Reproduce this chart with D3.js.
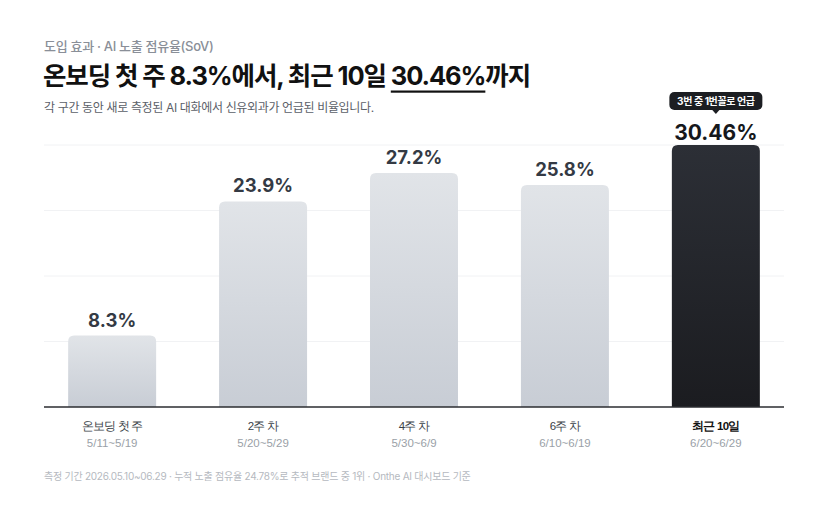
<!DOCTYPE html>
<html>
<head>
<meta charset="utf-8">
<script src="https://cdn.jsdelivr.net/npm/d3@7"></script>
<style>
  body { margin: 0; background: #fff; }
  svg { display: block; font-family: "Inter", "Noto Sans CJK KR", sans-serif; }
</style>
</head>
<body>
<div class="chart"></div>
<script>
var periods = ["온보딩 첫 주", "2주 차", "4주 차", "6주 차", "최근 10일"];
var ranges = ["5/11~5/19", "5/20~5/29", "5/30~6/9", "6/10~6/19", "6/20~6/29"];
var shares = [8.3, 23.9, 27.2, 25.8, 30.46];
var shareLabels = ["8.3%", "23.9%", "27.2%", "25.8%", "30.46%"];

var svgWidth = 828;
var svgHeight = 524;

var margin = { top: 145, right: 44, bottom: 117, left: 44 };
var width = svgWidth - margin.left - margin.right;
var height = svgHeight - margin.top - margin.bottom;

var data = periods.map(function (p, i) {
    return { period: p, range: ranges[i], value: shares[i], label: shareLabels[i], last: i === periods.length - 1 };
});

var svg = d3.select(".chart")
    .append("svg")
    .attr("width", svgWidth)
    .attr("height", svgHeight);

var defs = svg.append("defs");
var g1 = defs.append("linearGradient").attr("id", "grayBar").attr("x1", 0).attr("y1", 0).attr("x2", 0).attr("y2", 1);
g1.append("stop").attr("offset", "0%").attr("stop-color", "#e1e4e8");
g1.append("stop").attr("offset", "100%").attr("stop-color", "#c8cdd5");
var g2 = defs.append("linearGradient").attr("id", "darkBar").attr("x1", 0).attr("y1", 0).attr("x2", 0).attr("y2", 1);
g2.append("stop").attr("offset", "0%").attr("stop-color", "#2c2f36");
g2.append("stop").attr("offset", "100%").attr("stop-color", "#1b1c20");

// Header texts
svg.append("text")
    .attr("x", 44).attr("y", 51)
    .style("font-size", "13px").style("fill", "#8a8f98").style("font-weight", 500)
    .style("letter-spacing", "-0.3px")
    .text("도입 효과 · AI 노출 점유율(SoV)");

var titleStr = "온보딩 첫 주 8.3%에서, 최근 10일 30.46%까지";
var title = svg.append("text")
    .attr("x", 43).attr("y", 85)
    .style("font-size", "25.5px").style("font-weight", 700).style("fill", "#111")
    .style("letter-spacing", "-1.1px")
    .text(titleStr);

// underline the final value
var hi = titleStr.indexOf("30.46%");
var tnode = title.node();
var ux = tnode.getStartPositionOfChar(hi).x;
var uw = tnode.getSubStringLength(hi, 6);
svg.append("rect")
    .attr("x", ux).attr("y", 90.5)
    .attr("width", uw).attr("height", 2.2)
    .attr("fill", "#111");

svg.append("text")
    .attr("x", 44).attr("y", 112)
    .style("font-size", "12px").style("fill", "#5b6068")
    .style("letter-spacing", "-0.35px")
    .text("각 구간 동안 새로 측정된 AI 대화에서 신유외과가 언급된 비율입니다.");

var chartGroup = svg.append("g")
    .attr("transform", `translate(${margin.left}, ${margin.top})`);

var xBandScale = d3.scaleBand()
    .domain(periods)
    .range([0, width])
    .paddingInner(0.417)
    .paddingOuter(0.16);

var yLinearScale = d3.scaleLinear()
    .domain([0, d3.max(shares)])
    .range([height, 0]);

// gridlines at quarters of the max
var gridTicks = [0.25, 0.5, 0.75, 1].map(function (f) { return f * d3.max(shares); });
chartGroup.append("g")
    .selectAll("line")
    .data(gridTicks)
    .enter()
    .append("line")
    .attr("x1", 0).attr("x2", width)
    .attr("y1", d => yLinearScale(d)).attr("y2", d => yLinearScale(d))
    .attr("stroke", "#f1f2f4").attr("stroke-width", 1);

// bars with rounded tops
var r = 6;
function barPath(d) {
    var x0 = xBandScale(d.period), w = xBandScale.bandwidth();
    var y0 = yLinearScale(d.value), y1 = yLinearScale(0);
    return `M${x0},${y1}V${y0 + r}Q${x0},${y0} ${x0 + r},${y0}H${x0 + w - r}Q${x0 + w},${y0} ${x0 + w},${y0 + r}V${y1}Z`;
}

chartGroup.selectAll(".bar")
    .data(data)
    .enter()
    .append("path")
    .attr("class", "bar")
    .attr("d", barPath)
    .attr("fill", d => d.last ? "url(#darkBar)" : "url(#grayBar)");

// value labels
chartGroup.selectAll(".val")
    .data(data)
    .enter()
    .append("text")
    .attr("class", "val")
    .attr("x", d => xBandScale(d.period) + xBandScale.bandwidth() / 2)
    .attr("y", d => yLinearScale(d.value) - (d.last ? 5 : 9))
    .style("text-anchor", "middle")
    .style("font-size", d => d.last ? "21px" : "18.5px")
    .style("font-weight", 700)
    .style("fill", d => d.last ? "#16181c" : "#343a44")
    .text(d => d.label);

// badge over the last bar
var lastD = data[data.length - 1];
var bx = xBandScale(lastD.period) + xBandScale.bandwidth() / 2;
var badge = chartGroup.append("g")
    .attr("transform", `translate(${bx}, ${yLinearScale(lastD.value) - 44})`);
badge.append("rect")
    .attr("x", -46.5).attr("y", -9)
    .attr("width", 93).attr("height", 18)
    .attr("rx", 5)
    .attr("fill", "#1c1e22");
badge.append("path")
    .attr("d", "M-4,8.5L0,13L4,8.5Z")
    .attr("fill", "#1c1e22");
badge.append("text")
    .attr("y", 3.8)
    .style("text-anchor", "middle")
    .style("font-size", "10px").style("font-weight", 700)
    .style("letter-spacing", "-0.4px")
    .style("fill", "#fff")
    .text("3번 중 1번꼴로 언급");

// baseline
chartGroup.append("line")
    .attr("x1", 0).attr("x2", width)
    .attr("y1", height).attr("y2", height)
    .attr("stroke", "#2b2d31").attr("stroke-width", 1.6);

// x labels
var bottomAxis = d3.axisBottom(xBandScale).tickSize(0).tickPadding(0);
var axisG = chartGroup.append("g")
    .attr("transform", `translate(0, ${height})`)
    .call(bottomAxis);
axisG.select(".domain").remove();
axisG.selectAll(".tick text").remove();
axisG.selectAll(".tick").each(function (p, i) {
    var t = d3.select(this);
    var isLast = i === periods.length - 1;
    t.append("text")
        .attr("y", 23)
        .attr("fill", isLast ? "#111" : "#3a3f47")
        .style("font-size", "11.5px")
        .style("font-weight", isLast ? 700 : 400)
        .style("letter-spacing", "-0.8px")
        .style("text-anchor", "middle")
        .text(p);
    t.append("text")
        .attr("y", 39.5)
        .attr("fill", "#9a9fa7")
        .style("font-size", "11.5px")
        .style("text-anchor", "middle")
        .text(ranges[i]);
});

// footer
svg.append("text")
    .attr("x", 44).attr("y", 480)
    .style("font-size", "10px").style("fill", "#b5b9c0")
    .style("letter-spacing", "-0.25px")
    .text("측정 기간 2026.05.10~06.29 · 누적 노출 점유율 24.78%로 추적 브랜드 중 1위 · Onthe AI 대시보드 기준");
</script>
</body>
</html>
